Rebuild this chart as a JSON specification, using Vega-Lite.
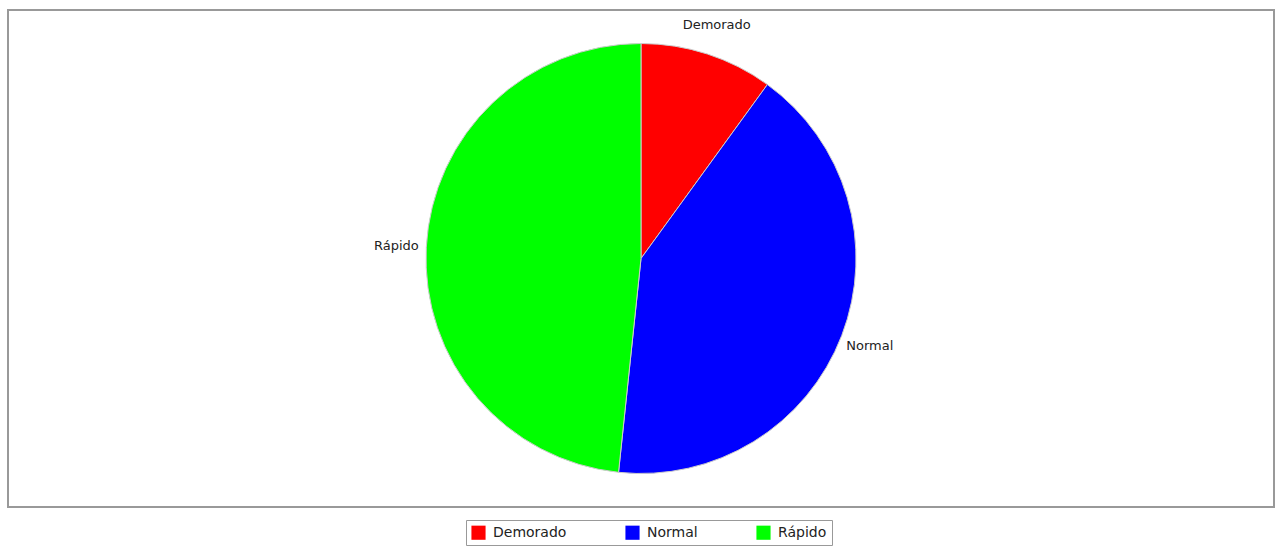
{
  "$schema": "https://vega.github.io/schema/vega-lite/v6.json",
  "width": 1266,
  "height": 497,
  "autosize": {"type": "none"},
  "padding": {"left": 8, "top": 10, "right": 7, "bottom": 42},
  "background": "white",
  "view": {"stroke": "#999999", "strokeWidth": 2},
  "data": {"values": [
    {"categoria": "Demorado", "valor": 6, "orden": 1},
    {"categoria": "Normal", "valor": 25, "orden": 2},
    {"categoria": "Rápido", "valor": 29, "orden": 3}
  ]},
  "encoding": {
    "theta": {"field": "valor", "type": "quantitative", "stack": true},
    "order": {"field": "orden", "type": "quantitative"},
    "color": {
      "field": "categoria", "type": "nominal",
      "scale": {"domain": ["Demorado", "Normal", "Rápido"], "range": ["#ff0000", "#0000ff", "#00ff00"]},
      "legend": {
        "title": null, "orient": "none", "legendX": 458, "legendY": 510, "direction": "horizontal",
        "symbolType": "square", "symbolSize": 200, "symbolStrokeWidth": 0,
        "labelFont": "DejaVu Sans", "labelFontSize": 14, "labelColor": "#222222",
        "strokeColor": "#999999", "padding": 5, "columnPadding": 58, "labelOffset": 7,
        "fillColor": "white"
      }
    }
  },
  "layer": [
    {"mark": {"type": "arc", "outerRadius": 215, "stroke": "#cccccc", "strokeWidth": 1}},
    {"mark": {"type": "text", "radius": 245, "font": "DejaVu Sans", "fontSize": 13, "fill": "#222222"},
     "encoding": {"text": {"field": "categoria"}, "color": {"value": "#222222"}}}
  ]
}
